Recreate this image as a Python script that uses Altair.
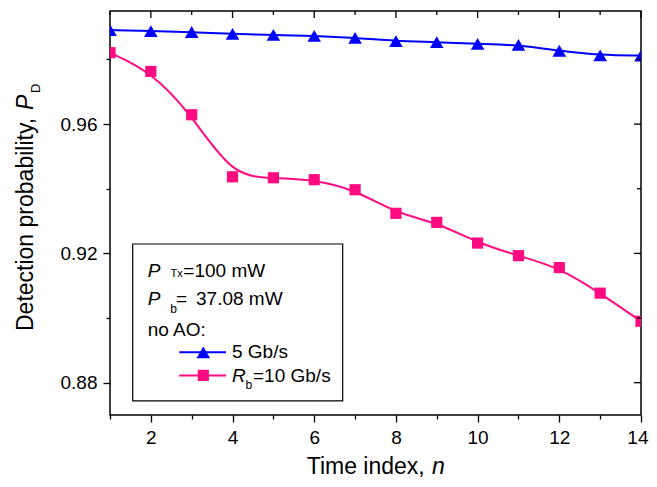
import altair as alt
import pandas as pd

FONT = "Liberation Sans"

# ---- data ----
n_values = list(range(1, 15))
pd_5gbps = [0.9891, 0.9888, 0.9885, 0.9879, 0.9876, 0.9873, 0.9867,
            0.9857, 0.9854, 0.9848, 0.9845, 0.9827, 0.9813, 0.9812]
pd_10gbps = [0.9821, 0.9763, 0.9629, 0.9437, 0.9434, 0.9428, 0.9397,
             0.9324, 0.9296, 0.9232, 0.9193, 0.9156, 0.9077, 0.8990]
series_names = ["5 Gb/s", "10 Gb/s"]
x_ticks = list(range(1, 15))
y_ticks = [0.88, 0.90, 0.92, 0.94, 0.96, 0.98]
y_major = ["0.88", "0.92", "0.96"]

df = pd.DataFrame({
    "n": n_values * 2,
    "pd": pd_5gbps + pd_10gbps,
    "series": [series_names[0]] * len(n_values) + [series_names[1]] * len(n_values),
})
xt = pd.DataFrame({"n": x_ticks})
yt = pd.DataFrame({"pd": y_ticks})

W, H = 531, 404
F = H / 408.0
BLUE, PINK = "#0000ff", "#ff0a80"
TRI_SIZE, SQ_SIZE = 185, 125

major_y_test = "indexof(" + str(y_major) + ", format(datum.value, '.2f')) >= 0"

x_scale = alt.Scale(domain=[1, 14], nice=False, zero=False)
y_scale = alt.Scale(domain=[0.87, 0.995], nice=False, zero=False)
x_axis = alt.Axis(values=x_ticks, labelExpr="datum.value % 2 == 0 ? datum.label : ''",
                  tickSize={"condition": {"test": "datum.value % 2 == 0", "value": 7}, "value": 4},
                  domain=False, grid=False, title=None, labelFont=FONT, labelFontSize=19,
                  labelColor="black", tickColor="black", tickWidth=1.3, labelPadding=6,
                  labelFlush=True, labelFlushOffset=7, labelOverlap=False)
y_axis = alt.Axis(values=y_ticks,
                  labelExpr=major_y_test + " ? format(datum.value, '.2f') : ''",
                  tickSize={"condition": {"test": major_y_test, "value": 7}, "value": 4},
                  domain=False, grid=False, title=None, labelFont=FONT, labelFontSize=19,
                  labelColor="black", tickColor="black", tickWidth=1.3, labelPadding=6,
                  labelFlush=False, labelOverlap=False)

X = alt.X("n:Q", scale=x_scale, axis=x_axis)
Y = alt.Y("pd:Q", scale=y_scale, axis=y_axis)
color = alt.Color("series:N", scale=alt.Scale(domain=series_names, range=[BLUE, PINK]), legend=None)
shape = alt.Shape("series:N", scale=alt.Scale(domain=series_names, range=["triangle-up", "square"]), legend=None)
size = alt.Size("series:N", scale=alt.Scale(domain=series_names, range=[TRI_SIZE, SQ_SIZE]), legend=None)

base = alt.Chart(df)
lines = base.mark_line(interpolate="basis", strokeWidth=2, clip=True).encode(x=X, y=Y, color=color)
points = base.mark_point(filled=True, opacity=1, clip=True).encode(x=X, y=Y, color=color, shape=shape, size=size)

# inward ticks on the top and right frame
top_major = alt.Chart(xt).transform_filter("datum.n % 2 == 0").mark_rule(color="black", strokeWidth=1.3).encode(
    x=X, y=alt.value(0), y2=alt.value(7))
top_minor = alt.Chart(xt).transform_filter("datum.n % 2 == 1").mark_rule(color="black", strokeWidth=1.3).encode(
    x=X, y=alt.value(0), y2=alt.value(4))
right_major = alt.Chart(yt).transform_filter(major_y_test.replace("datum.value", "datum.pd")).mark_rule(
    color="black", strokeWidth=1.3).encode(y=Y, x=alt.value(W - 7), x2=alt.value(W))
right_minor = alt.Chart(yt).transform_filter("!(" + major_y_test.replace("datum.value", "datum.pd") + ")").mark_rule(
    color="black", strokeWidth=1.3).encode(y=Y, x=alt.value(W - 4), x2=alt.value(W))


def txt(s, x, y, size=19, italic=False, angle=0):
    return alt.Chart(pd.DataFrame({"t": [s]})).mark_text(
        align="left", baseline="alphabetic", font=FONT, fontSize=size,
        fontStyle="italic" if italic else "normal", angle=angle, color="black"
    ).encode(x=alt.value(x), y=alt.value(y), text="t:N")


def one():
    return alt.Chart(pd.DataFrame({"a": [0]}))


# legend box
box = one().mark_rect(fill="white", stroke="black", strokeWidth=1.2).encode(
    x=alt.value(22.7), x2=alt.value(232.7), y=alt.value(235.3 * F), y2=alt.value(393.7 * F))
leg_line_b = one().mark_rule(color=BLUE, strokeWidth=2).encode(
    x=alt.value(69.3), x2=alt.value(116), y=alt.value(344.7 * F))
leg_line_p = one().mark_rule(color=PINK, strokeWidth=2).encode(
    x=alt.value(69.3), x2=alt.value(116), y=alt.value(368 * F))
leg_pt_b = one().mark_point(filled=True, opacity=1, size=TRI_SIZE, shape="triangle-up", color=BLUE).encode(
    x=alt.value(93.3), y=alt.value(344.7 * F))
leg_pt_p = one().mark_point(filled=True, opacity=1, size=SQ_SIZE, shape="square", color=PINK).encode(
    x=alt.value(93.3), y=alt.value(368 * F))

texts = [
    txt("P", 37.7, 268.7 * F, italic=True), txt("Tx", 60.5, 269 * F, size=11), txt("=100 mW", 73.3, 268.7 * F),
    txt("P", 37.7, 297 * F, italic=True), txt("b", 60.3, 304.7 * F, size=12), txt("=", 66, 297 * F),
    txt("37.08 mW", 86, 297 * F),
    txt("no AO:", 37.7, 328 * F),
    txt("5 Gb/s", 122, 350.7 * F),
    txt("R", 122, 374.7 * F, italic=True), txt("b", 135.5, 382 * F, size=12), txt("=10 Gb/s", 143, 374.7 * F),
    # axis titles
    txt("Time index, ", 196.7, 463, size=23), txt("n", 322, 463, size=23, italic=True),
    txt("Detection probability, ", -77, 320, size=23, angle=270),
    txt("P", -77, 99, size=23, italic=True, angle=270),
    txt("D", -70.5, 82, size=13, angle=270),
]

chart = alt.layer(
    lines, points, top_major, top_minor, right_major, right_minor,
    box, leg_line_b, leg_line_p, leg_pt_b, leg_pt_p, *texts
).properties(
    width=W, height=H,
    autosize=alt.AutoSizeParams(type="none"),
    padding={"left": 102, "top": 3, "right": 8, "bottom": 64},
).configure_view(stroke="black", strokeWidth=1.5)

chart.save("out.html", embed_options={"renderer": "svg", "actions": False})
